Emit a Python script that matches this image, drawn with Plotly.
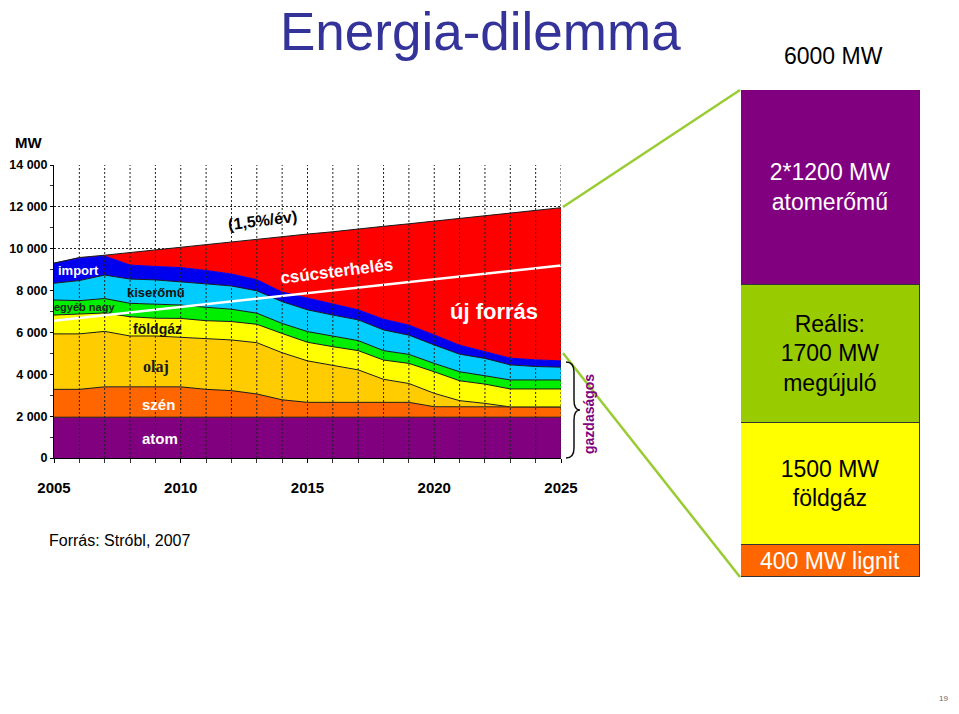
import plotly.graph_objects as go

# The page places the figure 8 px from the window's edges,
# so the figure is sized to the inner area and positions are measured in window pixels.
OFF = 8
W, H = 959 - 2 * OFF, 714 - 2 * OFF


def px(x):
    return (x - OFF) / W


def py(y):
    return 1 - (y - OFF) / H


# ---------------- data ----------------
years = [2005, 2006, 2007, 2008, 2009, 2010, 2011, 2012, 2013, 2014, 2015,
         2016, 2017, 2018, 2019, 2020, 2021, 2022, 2023, 2024, 2025]
x_tick_years = [2005, 2010, 2015, 2020, 2025]

atom = [1950, 1950, 1950, 1950, 1950, 1950, 1950, 1950, 1950, 1950, 1950,
        1950, 1950, 1950, 1950, 1950, 1950, 1950, 1950, 1950, 1950]
szen = [1330, 1330, 1450, 1450, 1450, 1450, 1330, 1270, 1110, 830, 710,
        710, 710, 710, 710, 500, 500, 500, 490, 490, 490]
olaj = [2650, 2650, 2650, 2430, 2430, 2370, 2400, 2420, 2450, 2250, 1980,
        1780, 1550, 1100, 900, 640, 290, 160, 0, 0, 0]
foldgaz = [900, 940, 880, 920, 850, 900, 880, 880, 880, 920, 890,
           880, 920, 920, 960, 1030, 950, 920, 860, 860, 860]
egyeb_nagy = [720, 650, 690, 640, 670, 640, 640, 590, 530, 480, 510,
              510, 480, 450, 430, 400, 430, 400, 430, 430, 430]
kiseromu = [800, 960, 1120, 1160, 1160, 1120, 1120, 1110, 1070, 1040, 1040,
            1000, 990, 990, 920, 880, 840, 830, 720, 640, 610]
import_mw = [960, 1070, 910, 670, 640, 670, 640, 570, 530, 460, 560,
             520, 480, 510, 480, 480, 430, 320, 320, 320, 300]
uj_forras = [0, 30, 40, 600, 800, 980, 1240, 1530, 1940, 2650, 3060,
             3460, 3870, 4440, 4840, 5440, 6040, 6490, 6930, 7140, 7320]

csucs_years = [2005, 2025]
csucs_mw = [6560, 9200]

bar_names = ["400 MW lignit", "1500 MW<br>földgáz", "Reális:<br>1700 MW<br>megújuló",
             "2*1200 MW<br>atomerőmű"]
bar_values = [400, 1500, 1700, 2400]

# ---------------- styles ----------------
layers = [
    ("atom", atom, "#800080", "#1a1a1a"),
    ("szén", szen, "#FF6600", "#1a1a1a"),
    ("olaj", olaj, "#FFCC00", "#1a1a1a"),
    ("földgáz", foldgaz, "#FFFF00", "#1a1a1a"),
    ("egyéb nagy", egyeb_nagy, "#00EE00", "#1a1a1a"),
    ("kiserőmű", kiseromu, "#00CCFF", "#1a1a1a"),
    ("import", import_mw, "#0000EE", "#0000EE"),
    ("új forrás", uj_forras, "#FF0000", "#1a1a1a"),
]
bar_colors = ["#FF6600", "#FFFF00", "#99CC00", "#800080"]
bar_text_colors = ["white", "black", "black", "white"]

FONT = "Liberation Sans, Arial, sans-serif"

fig = go.Figure()

for name, vals, fillc, linec in layers:
    fig.add_trace(go.Scatter(
        x=years, y=vals, name=name, stackgroup="main", mode="lines",
        line=dict(color=linec, width=1), fillcolor=fillc,
        xaxis="x", yaxis="y", showlegend=False, hoverinfo="skip"))

fig.add_trace(go.Scatter(
    x=csucs_years, y=csucs_mw, mode="lines", line=dict(color="white", width=2.5),
    xaxis="x", yaxis="y", showlegend=False, hoverinfo="skip"))

for name, val, col, tcol in zip(bar_names, bar_values, bar_colors, bar_text_colors):
    fig.add_trace(go.Bar(
        x=[0], y=[val], width=[1], marker=dict(color=col, line=dict(color="#333333", width=1)),
        text=[name], textposition="inside", insidetextanchor="middle", textangle=0,
        textfont=dict(color=tcol, size=23, family=FONT),
        xaxis="x2", yaxis="y2", showlegend=False, hoverinfo="skip"))

shapes = []
# vertical dotted grid over the areas
for yr in years[1:]:
    shapes.append(dict(type="line", xref="x", yref="y", x0=yr, x1=yr, y0=0, y1=14000,
                       line=dict(color="#222222", width=1, dash="2px,2px"), layer="above"))
# connector lines to the bar
shapes.append(dict(type="line", xref="paper", yref="paper", x0=px(563), y0=py(207),
                   x1=px(740), y1=py(90), line=dict(color="#99CC33", width=2.5), layer="above"))
shapes.append(dict(type="line", xref="paper", yref="paper", x0=px(563), y0=py(353),
                   x1=px(740), y1=py(577), line=dict(color="#99CC33", width=2.5), layer="above"))


def P(x, y):
    return f"{px(x):.5f},{py(y):.5f}"


brace = (f"M {P(566, 362)} Q {P(574, 362)} {P(574, 372)} L {P(574, 400)} "
         f"Q {P(574, 410)} {P(580, 410)} Q {P(574, 410)} {P(574, 420)} "
         f"L {P(574, 448)} Q {P(574, 458)} {P(566, 458)}")
shapes.append(dict(type="path", xref="paper", yref="paper", path=brace,
                   line=dict(color="#111111", width=1.5)))

annotations = []


def ann(text, x, y, size, color="black", bold=False, family=FONT, angle=0, xanchor="center"):
    t = f"<b>{text}</b>" if bold else text
    annotations.append(dict(text=t, x=px(x), y=py(y), xref="paper", yref="paper",
                            xanchor=xanchor, yanchor="middle", showarrow=False, textangle=angle,
                            font=dict(size=size, color=color, family=family)))


ann("Energia-dilemma", 480, 31, 53, color="#333399")
ann("6000 MW", 833, 56, 23)
ann("MW", 28, 143, 15, bold=True)
ann("Forrás: Stróbl, 2007", 120, 540, 16)
ann("import", 78, 270, 13, color="white", bold=True)
ann("kiserőmű", 156, 292, 13, color="#111111", bold=True)
ann("egyéb nagy", 84, 307, 11, color="#1a2a1a", bold=True)
ann("földgáz", 157, 329, 14, color="#111111", bold=True)
ann("olaj", 156, 367, 16, color="#1a1a2a", bold=True, family="Liberation Serif, Times New Roman, serif")
ann("szén", 158, 404, 15, color="white", bold=True)
ann("atom", 160, 438, 15, color="white", bold=True)
ann("(1,5%/év)", 262, 221, 16, bold=True, angle=-7)
ann("csúcsterhelés", 336, 271, 17, color="white", bold=True, angle=-7)
ann("új forrás", 494, 311, 22, color="white", bold=True)
ann("gazdaságos", 589, 414, 14, color="#800080", bold=True, angle=-90)
ann("19", 943, 698, 8, color="#666666")

fig.update_layout(
    width=W, height=H, autosize=False,
    margin=dict(l=0, r=0, t=0, b=0, pad=0, autoexpand=False),
    paper_bgcolor="white", plot_bgcolor="white",
    separators=", ",
    barmode="stack", bargap=0,
    uniformtext=dict(minsize=23, mode="show"),
    shapes=shapes, annotations=annotations,
    font=dict(family=FONT, color="black"),
    xaxis=dict(domain=[px(54), px(561)], range=[2005, 2025], tickvals=x_tick_years,
               ticks="outside", ticklen=4, tickcolor="black", showline=True, linecolor="black",
               linewidth=1, showgrid=False, zeroline=False, ticklabelstandoff=12,
               tickfont=dict(size=15, family=FONT, weight="bold", color="black"),
               minor=dict(dtick=1, ticks="outside", ticklen=4, tickcolor="#333333", showgrid=False),
               anchor="y", fixedrange=True, automargin=False),
    yaxis=dict(domain=[py(458), py(165)], range=[0, 14000], dtick=2000, tickformat=",d",
               ticks="outside", ticklen=3, tickcolor="black", showline=True, linecolor="black",
               linewidth=1, showgrid=True, gridcolor="#222222", griddash="2px,2px", gridwidth=1,
               zeroline=False, ticklabelstandoff=0,
               tickfont=dict(size=12.5, family=FONT, weight="bold", color="black"),
               minor=dict(dtick=1000, ticks="outside", ticklen=3, tickcolor="#333333", showgrid=False),
               anchor="x", fixedrange=True, automargin=False),
    xaxis2=dict(domain=[px(741), px(920)], range=[-0.5, 0.5], visible=False, anchor="y2",
                automargin=False),
    yaxis2=dict(domain=[py(577), py(90)], range=[0, 6000], visible=False, anchor="x2",
                automargin=False),
)

fig.write_html("out.html")
